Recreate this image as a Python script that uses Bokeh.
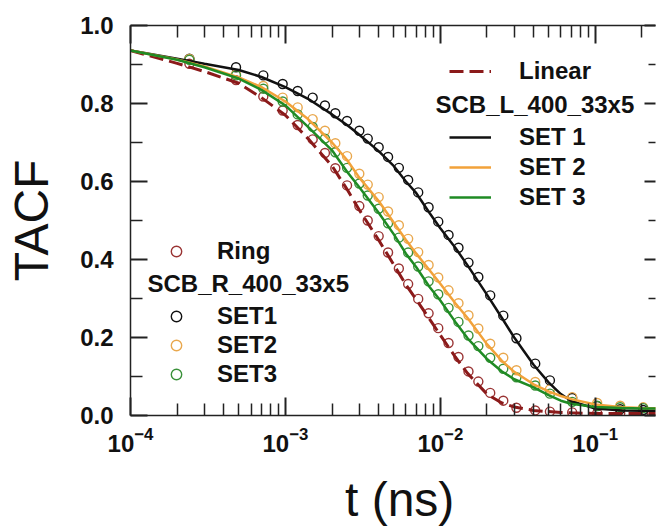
from bokeh.plotting import figure
from bokeh.models import (Range1d, LogAxis, LinearAxis, FixedTicker, NumeralTickFormatter,
                          Label, Legend, LegendItem)
from bokeh.embed import file_html
from bokeh.resources import INLINE

FONT = "Liberation Sans"

# ---- fitted TACF curves (shared time grid, ns) ----
t_fit = [1e-4, 2e-4, 3e-4, 5e-4, 7e-4, 1e-3, 1.4e-3, 2e-3, 2.5e-3, 3e-3, 4e-3, 5e-3, 6e-3, 7e-3,
         8.5e-3, 1e-2, 1.25e-2, 1.5e-2, 2e-2, 2.5e-2, 3e-2, 4e-2, 5e-2, 6e-2, 7e-2, 0.1, 0.15, 0.2, 0.3]
linear_fit = [0.936, 0.903, 0.882, 0.852, 0.815, 0.77, 0.71, 0.64, 0.58, 0.527, 0.45, 0.387, 0.335, 0.297,
              0.248, 0.206, 0.15, 0.108, 0.055, 0.032, 0.022, 0.013, 0.01, 0.008, 0.007, 0.005, 0.005, 0.005, 0.005]
set1_fit = [0.936, 0.915, 0.902, 0.886, 0.868, 0.842, 0.812, 0.772, 0.745, 0.72, 0.678, 0.64, 0.60, 0.57,
            0.52, 0.48, 0.43, 0.385, 0.31, 0.25, 0.20, 0.13, 0.085, 0.055, 0.037, 0.018, 0.013, 0.012, 0.012]
set2_fit = [0.936, 0.913, 0.895, 0.867, 0.842, 0.805, 0.76, 0.70, 0.655, 0.61, 0.55, 0.495, 0.45, 0.415,
            0.373, 0.338, 0.288, 0.25, 0.183, 0.14, 0.112, 0.08, 0.062, 0.05, 0.042, 0.028, 0.021, 0.019, 0.018]
set3_fit = [0.936, 0.912, 0.893, 0.864, 0.835, 0.795, 0.74, 0.68, 0.625, 0.585, 0.52, 0.465, 0.415, 0.38,
            0.33, 0.295, 0.24, 0.198, 0.145, 0.113, 0.093, 0.072, 0.052, 0.038, 0.03, 0.022, 0.019, 0.018, 0.018]

# ---- simulated TACF points (ring chains) ----
t_pts = [2.4e-4, 4.8e-4, 7.2e-4, 9.6e-4, 1.2e-3, 1.5e-3, 1.8e-3, 2.1e-3, 2.5e-3, 3.0e-3, 3.4e-3, 4.0e-3,
         4.6e-3, 5.4e-3, 6.2e-3, 7.2e-3, 8.4e-3, 9.7e-3, 1.13e-2, 1.31e-2, 1.52e-2, 1.76e-2, 2.1e-2,
         2.55e-2, 3.1e-2, 4.1e-2, 5.1e-2, 7.1e-2, 0.103, 0.145, 0.204]
ring_pts = [0.902, 0.86, 0.818, 0.782, 0.745, 0.708, 0.673, 0.634, 0.59, 0.537, 0.50, 0.46, 0.418, 0.377,
            0.337, 0.299, 0.262, 0.224, 0.186, 0.15, 0.113, 0.087, 0.058, 0.038, 0.02, 0.013, 0.01,
            0.008, 0.006, 0.006, 0.006]
set1_pts = [0.915, 0.893, 0.872, 0.85, 0.832, 0.815, 0.795, 0.775, 0.755, 0.73, 0.71, 0.688, 0.663, 0.635,
            0.604, 0.572, 0.534, 0.497, 0.463, 0.43, 0.392, 0.355, 0.308, 0.256, 0.198, 0.133, 0.09,
            0.045, 0.024, 0.016, 0.014]
set2_pts = [0.914, 0.875, 0.845, 0.815, 0.79, 0.76, 0.73, 0.698, 0.665, 0.62, 0.592, 0.56, 0.523, 0.488,
            0.453, 0.419, 0.386, 0.354, 0.321, 0.288, 0.257, 0.223, 0.184, 0.148, 0.116, 0.086, 0.067,
            0.047, 0.032, 0.025, 0.021]
set3_pts = [0.912, 0.872, 0.838, 0.805, 0.772, 0.74, 0.71, 0.675, 0.635, 0.595, 0.564, 0.53, 0.493, 0.456,
            0.418, 0.382, 0.344, 0.311, 0.276, 0.24, 0.205, 0.178, 0.148, 0.12, 0.098, 0.077, 0.056,
            0.035, 0.025, 0.021, 0.019]

# axis ticks
x_major = [1e-4, 1e-3, 1e-2, 1e-1]
x_minor = [k * d for d in [1e-4, 1e-3, 1e-2, 1e-1] for k in range(2, 10)]
y_major = [0.0, 0.2, 0.4, 0.6, 0.8, 1.0]
y_minor = [0.1, 0.3, 0.5, 0.7, 0.9]

RED = "#8b1a1a"
RED_PT = "#9a3434"
BLACK = "#111111"
ORANGE = "#f2a23a"
ORANGE_PT = "#e9a84e"
GREEN = "#1f8b24"
GREEN_PT = "#3a913a"
AXIS = "#222222"
TEXT = "#111111"

p = figure(width=663, height=529, x_axis_type="log",
           x_range=Range1d(1e-4, 0.245), y_range=Range1d(0.0, 1.0),
           output_backend="svg", toolbar_location=None,
           min_border_left=130, min_border_right=8, min_border_top=25, min_border_bottom=114)
p.outline_line_color = None
p.xgrid.visible = False
p.ygrid.visible = False
p.background_fill_color = "white"
p.border_fill_color = "white"

top_axis = LogAxis()
right_axis = LinearAxis()
p.add_layout(top_axis, "above")
p.add_layout(right_axis, "right")


def style_axis(ax, major, minor, show_labels, tick_major, tick_minor):
    ax.ticker = FixedTicker(ticks=major, minor_ticks=minor)
    ax.axis_line_color = AXIS
    ax.axis_line_width = 1.5
    ax.major_tick_line_color = AXIS
    ax.major_tick_line_width = 2
    ax.minor_tick_line_color = AXIS
    ax.minor_tick_line_width = 1.5
    ax.major_tick_out = 0
    ax.minor_tick_out = 0
    ax.major_tick_in = tick_major
    ax.minor_tick_in = tick_minor
    ax.major_label_text_font = FONT
    ax.major_label_text_font_style = "bold"
    if show_labels:
        ax.major_label_text_font_size = "24px"
        ax.major_label_text_color = TEXT
    else:
        ax.major_label_text_font_size = "1px"
        ax.major_label_text_alpha = 0
        ax.major_label_standoff = 0


bottom = p.below[0]
left = p.left[0]
style_axis(bottom, x_major, x_minor, True, 18, 12)
style_axis(top_axis, x_major, x_minor, False, 18, 12)
style_axis(left, y_major, y_minor, True, 17, 12)
style_axis(right_axis, y_major, y_minor, False, 11, 7)
right_axis.axis_line_color = None
left.formatter = NumeralTickFormatter(format="0.0")
left.major_label_standoff = 17
bottom.major_label_standoff = 11

left.axis_label = "TACF"
bottom.axis_label = "\u00a0t (ns)"
for ax, standoff in ((left, 19), (bottom, 18)):
    ax.axis_label_text_font = FONT
    ax.axis_label_text_font_style = "normal"
    ax.axis_label_text_font_size = "48px"
    ax.axis_label_text_color = TEXT
    ax.axis_label_standoff = standoff

# simulation points
pt_kw = dict(marker="circle", size=9, fill_color=None, line_width=1.4)
r_ring = p.scatter(t_pts, ring_pts, line_color=RED_PT, **pt_kw)
r_p1 = p.scatter(t_pts, set1_pts, line_color=BLACK, **pt_kw)
r_p2 = p.scatter(t_pts, set2_pts, line_color=ORANGE_PT, **pt_kw)
r_p3 = p.scatter(t_pts, set3_pts, line_color=GREEN_PT, **pt_kw)

# fitted curves
r_lin = p.line(t_fit, linear_fit, line_color=RED, line_width=3, line_dash="14 6")
r_l1 = p.line(t_fit, set1_fit, line_color=BLACK, line_width=2.5)
r_l2 = p.line(t_fit, set2_fit, line_color=ORANGE, line_width=2.5)
r_l3 = p.line(t_fit, set3_fit, line_color=GREEN, line_width=2.5)


def add_legend(items, loc, glyph_w, standoff, row_h, spacing):
    lg = Legend(items=items, location=loc, orientation="vertical",
                glyph_width=glyph_w, glyph_height=row_h, label_height=row_h,
                label_standoff=standoff, spacing=spacing, padding=0, margin=0,
                border_line_color=None, background_fill_alpha=0,
                label_text_font=FONT, label_text_font_style="bold",
                label_text_font_size="24px", label_text_color=TEXT)
    p.add_layout(lg)


add_legend([LegendItem(label="Linear", renderers=[r_lin])], (319, 330), 42, 28, 26, 2)
add_legend([LegendItem(label="SET 1", renderers=[r_l1]),
            LegendItem(label="SET 2", renderers=[r_l2]),
            LegendItem(label="SET 3", renderers=[r_l3])], (319, 204), 42, 28, 26, 2)
add_legend([LegendItem(label="Ring", renderers=[r_ring])], (31, 150), 30, 26, 26, 1)
add_legend([LegendItem(label="SET1", renderers=[r_p1]),
            LegendItem(label="SET2", renderers=[r_p2]),
            LegendItem(label="SET3", renderers=[r_p3])], (31, 27), 30, 26, 26, 1)

hdr_kw = dict(x_units="screen", y_units="screen", text_font=FONT, text_font_style="bold",
              text_font_size="24px", text_color=TEXT, text_baseline="middle")
p.add_layout(Label(x=305, y=311, text="SCB_L_400_33x5", **hdr_kw))
p.add_layout(Label(x=17, y=132, text="SCB_R_400_33x5", **hdr_kw))

open("out.html", "w").write(file_html(p, INLINE))
